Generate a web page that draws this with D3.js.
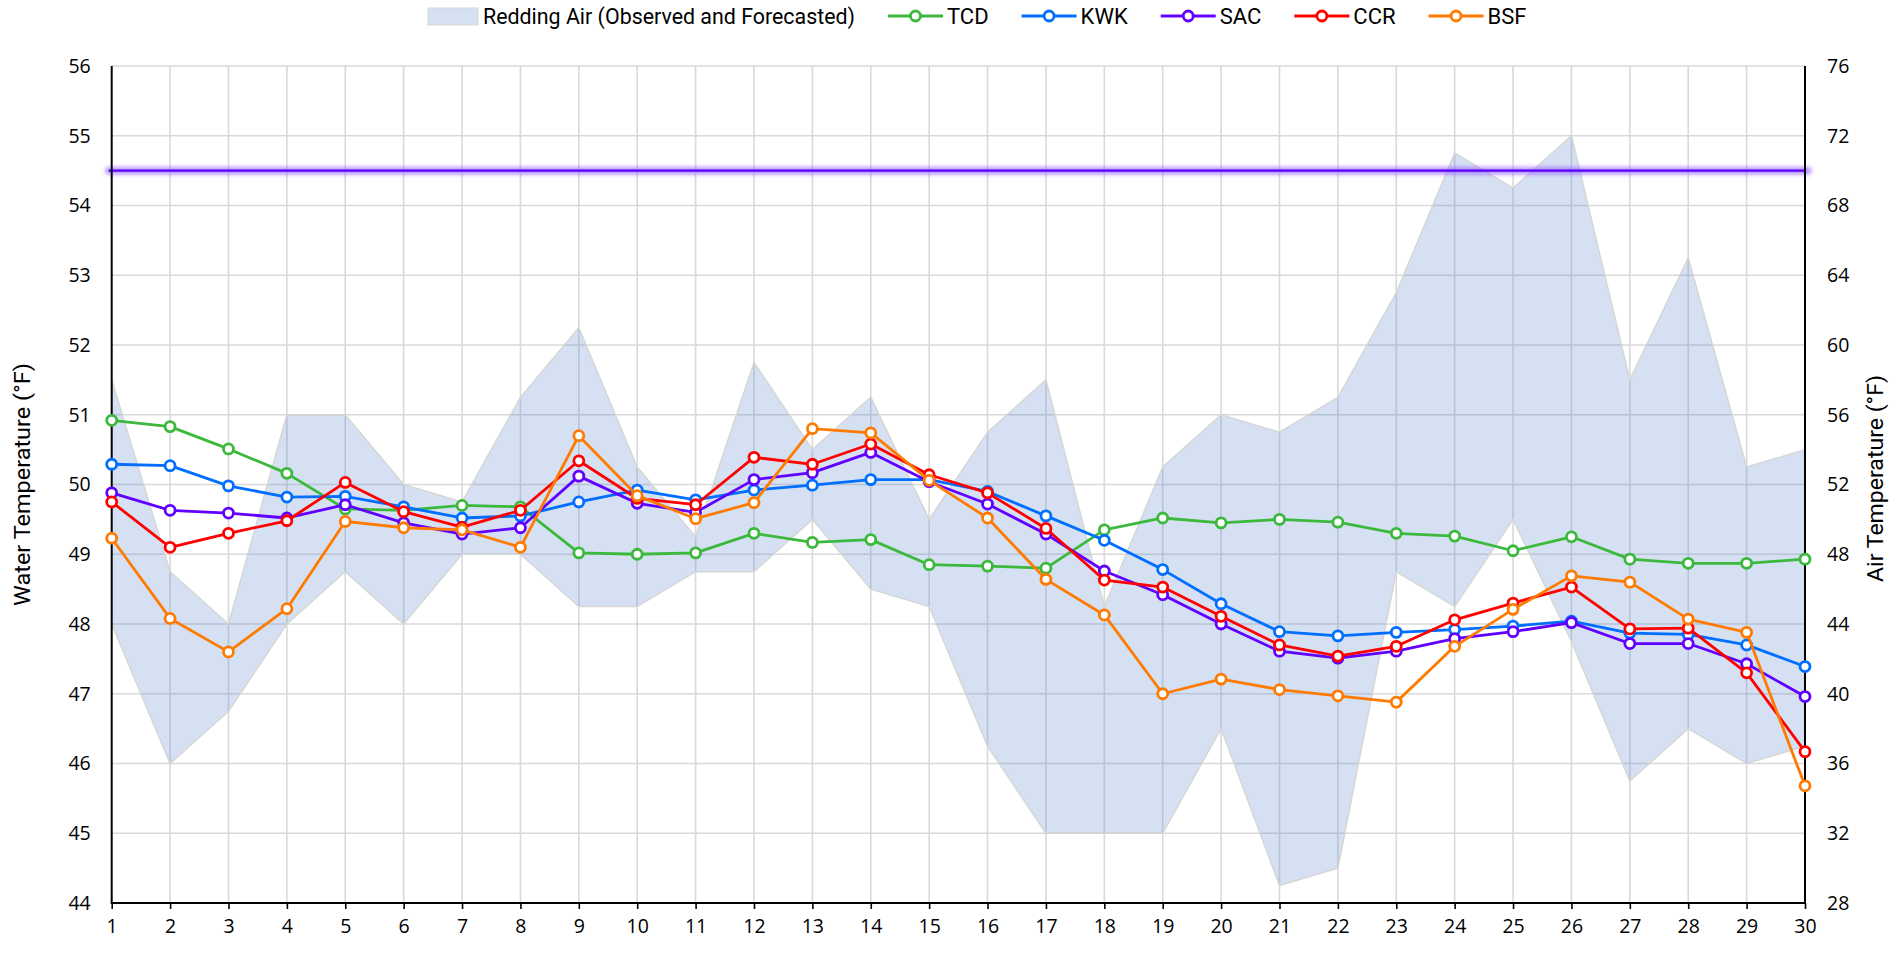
<!DOCTYPE html>
<html>
<head>
<meta charset="utf-8">
<script src="https://cdn.jsdelivr.net/npm/d3@7"></script>
<style>
  html, body { margin: 0; padding: 0; background: #fff; }
  svg { display: block; }
</style>
</head>
<body>
<svg id="chart" width="1904" height="953"></svg>
<script>
// ---------------- DATA ----------------
const days = d3.range(1, 31);
const leftTicks = [44, 45, 46, 47, 48, 49, 50, 51, 52, 53, 54, 55, 56];
const rightTicks = [28, 32, 36, 40, 44, 48, 52, 56, 60, 64, 68, 72, 76];

const airUpper = [58, 47, 44, 56, 56, 52, 51, 57, 61, 53, 49, 59, 54, 57, 50, 55, 58, 45, 53, 56, 55, 57, 63, 71, 69, 72, 58, 65, 53, 54];
const airLower = [44, 36, 39, 44, 47, 44, 48, 48, 45, 45, 47, 47, 50, 46, 45, 37, 32, 32, 32, 38, 29, 30, 47, 45, 50, 43, 35, 38, 36, 37];

const TCD = [50.92, 50.83, 50.51, 50.16, 49.65, 49.63, 49.70, 49.68, 49.02, 49.00, 49.02, 49.30, 49.17, 49.21, 48.85, 48.83, 48.80, 49.35, 49.52, 49.45, 49.50, 49.46, 49.30, 49.26, 49.05, 49.25, 48.93, 48.87, 48.87, 48.93];
const KWK = [50.29, 50.27, 49.98, 49.82, 49.83, 49.68, 49.52, 49.55, 49.75, 49.92, 49.78, 49.92, 49.99, 50.07, 50.07, 49.90, 49.55, 49.20, 48.78, 48.29, 47.89, 47.83, 47.88, 47.92, 47.97, 48.04, 47.87, 47.85, 47.70, 47.39];
const SAC = [49.88, 49.63, 49.59, 49.52, 49.71, 49.45, 49.29, 49.38, 50.12, 49.73, 49.60, 50.07, 50.17, 50.46, 50.04, 49.72, 49.29, 48.76, 48.42, 48.00, 47.61, 47.51, 47.61, 47.79, 47.89, 48.02, 47.72, 47.72, 47.43, 46.96];
const CCR = [49.75, 49.10, 49.30, 49.48, 50.03, 49.61, 49.39, 49.63, 50.34, 49.80, 49.71, 50.39, 50.29, 50.58, 50.14, 49.88, 49.37, 48.63, 48.53, 48.11, 47.70, 47.54, 47.68, 48.06, 48.30, 48.53, 47.93, 47.94, 47.30, 46.17];
const BSF = [49.23, 48.08, 47.60, 48.22, 49.47, 49.38, 49.35, 49.10, 50.70, 49.84, 49.51, 49.74, 50.80, 50.74, 50.06, 49.52, 48.64, 48.13, 47.00, 47.21, 47.06, 46.97, 46.88, 47.68, 48.21, 48.69, 48.60, 48.07, 47.88, 45.68];

const threshold = 54.5;

const seriesNames = ["TCD", "KWK", "SAC", "CCR", "BSF"];
const seriesValues = [TCD, KWK, SAC, CCR, BSF];
const seriesColors = ["#3cb93c", "#006eff", "#6200ff", "#ff0000", "#ff7a00"];
const bandName = "Redding Air (Observed and Forecasted)";

// ---------------- LAYOUT ----------------
const W = 1904, H = 953;
const plot = { left: 111.7, right: 1805, top: 66, bottom: 903 };
const tickFont = '"Open Sans", "DejaVu Sans", sans-serif';
const labelFont = '"Liberation Sans Narrow", "Arial Narrow", Roboto, sans-serif';
const bandFill = "rgb(80,130,205)", bandOpacity = 0.24;

const svg = d3.select("#chart");

const x = d3.scaleLinear().domain([1, 30]).range([plot.left, plot.right]);
const yL = d3.scaleLinear().domain([44, 56]).range([plot.bottom, plot.top]);
const yR = d3.scaleLinear().domain([28, 76]).range([plot.bottom, plot.top]);

const defs = svg.append("defs");
const glow = defs.append("filter").attr("id", "glow")
  .attr("filterUnits", "userSpaceOnUse")
  .attr("x", 0).attr("y", 0).attr("width", W).attr("height", H);
glow.append("feGaussianBlur").attr("stdDeviation", 2.2);

// gridlines
const grid = svg.append("g");
grid.selectAll("line.h").data(leftTicks.filter(v => v !== 44)).join("line")
  .attr("x1", plot.left).attr("x2", plot.right)
  .attr("y1", d => yL(d)).attr("y2", d => yL(d))
  .attr("stroke", "#d9d9d9").attr("stroke-width", 1.6);
grid.selectAll("line.v").data(days.slice(1, -1)).join("line")
  .attr("x1", d => x(d)).attr("x2", d => x(d))
  .attr("y1", plot.top).attr("y2", plot.bottom)
  .attr("stroke", "#d9d9d9").attr("stroke-width", 1.6);

// air temperature band
const bandData = days.map((d, i) => ({ d, lo: airLower[i], hi: airUpper[i] }));
svg.append("path").datum(bandData)
  .attr("d", d3.area().x(p => x(p.d)).y0(p => yR(p.lo)).y1(p => yR(p.hi)))
  .attr("fill", bandFill).attr("fill-opacity", bandOpacity);
["lo", "hi"].forEach(k => {
  svg.append("path").datum(bandData)
    .attr("d", d3.line().x(p => x(p.d)).y(p => yR(p[k])))
    .attr("fill", "none").attr("stroke", "#d6d6d6").attr("stroke-width", 1.5);
});

// threshold line with glow
const thY = yL(threshold);
svg.append("line").attr("x1", x(1) - 3).attr("x2", x(30) + 3).attr("y1", thY).attr("y2", thY)
  .attr("stroke", "#9a66ff").attr("stroke-opacity", 0.75).attr("stroke-width", 7)
  .attr("stroke-linecap", "round").attr("filter", "url(#glow)");
svg.append("line").attr("x1", x(1) - 3).attr("x2", x(30) + 1).attr("y1", thY).attr("y2", thY)
  .attr("stroke", "#5a00ff").attr("stroke-width", 2.2);

// axes lines
const axisG = svg.append("g");
axisG.append("line").attr("x1", plot.left).attr("x2", plot.left).attr("y1", plot.top).attr("y2", plot.bottom)
  .attr("stroke", "#000").attr("stroke-width", 2);
axisG.append("line").attr("x1", plot.right).attr("x2", plot.right).attr("y1", plot.top).attr("y2", plot.bottom)
  .attr("stroke", "#000").attr("stroke-width", 2);

// bottom axis via d3
const xAxis = d3.axisBottom(x).tickValues(days).tickFormat(d3.format("d")).tickSize(6).tickPadding(10);
const gx = svg.append("g").attr("transform", `translate(0,${plot.bottom})`).call(xAxis);
gx.select(".domain").attr("stroke", "#000").attr("stroke-width", 2).attr("d", `M${plot.left - 1},0H${plot.right + 1}`);
gx.selectAll(".tick line").attr("stroke", "#000").attr("stroke-width", 1.6);
gx.selectAll(".tick text").attr("font-family", tickFont).attr("font-size", 19.5).attr("fill", "#000");

// left axis
const yAxisL = d3.axisLeft(yL).tickValues(leftTicks).tickFormat(d3.format("d")).tickSize(0).tickPadding(21);
const gyl = svg.append("g").attr("transform", `translate(${plot.left},0)`).call(yAxisL);
gyl.select(".domain").remove();
gyl.selectAll(".tick text").attr("font-family", tickFont).attr("font-size", 19.5).attr("fill", "#000");

// right axis
const yAxisR = d3.axisRight(yR).tickValues(rightTicks).tickFormat(d3.format("d")).tickSize(0).tickPadding(22);
const gyr = svg.append("g").attr("transform", `translate(${plot.right},0)`).call(yAxisR);
gyr.select(".domain").remove();
gyr.selectAll(".tick text").attr("font-family", tickFont).attr("font-size", 19.5).attr("fill", "#000");

// axis titles
const midY = (plot.top + plot.bottom) / 2;
svg.append("text").attr("transform", `translate(30,${midY}) rotate(-90)`)
  .attr("text-anchor", "middle").attr("font-family", labelFont).attr("font-size", 22)
  .attr("textLength", 243).attr("lengthAdjust", "spacingAndGlyphs")
  .text("Water Temperature (°F)");
svg.append("text").attr("transform", `translate(1883,${midY - 6}) rotate(-90)`)
  .attr("text-anchor", "middle").attr("font-family", labelFont).attr("font-size", 22)
  .attr("textLength", 207).attr("lengthAdjust", "spacingAndGlyphs")
  .text("Air Temperature (°F)");

// series
const mR = 5, mSW = 2.8, lSW = 2.8;
seriesValues.forEach((vals, si) => {
  const pts = days.map((d, i) => ({ d, v: vals[i] }));
  const g = svg.append("g");
  g.append("path").datum(pts)
    .attr("d", d3.line().x(p => x(p.d)).y(p => yL(p.v)))
    .attr("fill", "none").attr("stroke", seriesColors[si]).attr("stroke-width", lSW)
    .attr("stroke-linejoin", "round");
  g.selectAll("circle").data(pts).join("circle")
    .attr("cx", p => x(p.d)).attr("cy", p => yL(p.v)).attr("r", mR)
    .attr("fill", "#fff").attr("stroke", seriesColors[si]).attr("stroke-width", mSW);
});

// legend
const leg = svg.append("g");
const legY = 16;
let lx = 428;
leg.append("rect").attr("x", lx).attr("y", legY - 8).attr("width", 50).attr("height", 17)
  .attr("fill", bandFill).attr("fill-opacity", bandOpacity).attr("stroke", "#d6d6d6").attr("stroke-width", 1);
let t = leg.append("text").attr("x", lx + 55).attr("y", legY + 7.5)
  .attr("font-family", labelFont).attr("font-size", 22).text(bandName);
let tw = t.node().getComputedTextLength();
if (Math.abs(tw - 372) > 8) { t.attr("textLength", 372).attr("lengthAdjust", "spacingAndGlyphs"); tw = 372; }
lx = lx + 55 + tw + 33;
seriesNames.forEach((n, si) => {
  leg.append("line").attr("x1", lx).attr("x2", lx + 55).attr("y1", legY).attr("y2", legY)
    .attr("stroke", seriesColors[si]).attr("stroke-width", lSW);
  leg.append("circle").attr("cx", lx + 27.5).attr("cy", legY).attr("r", mR)
    .attr("fill", "#fff").attr("stroke", seriesColors[si]).attr("stroke-width", mSW);
  const tt = leg.append("text").attr("x", lx + 59).attr("y", legY + 7.5)
    .attr("font-family", labelFont).attr("font-size", 22).text(n);
  let w = tt.node().getComputedTextLength();
  lx = lx + 59 + w + 33;
});
</script>
</body>
</html>
